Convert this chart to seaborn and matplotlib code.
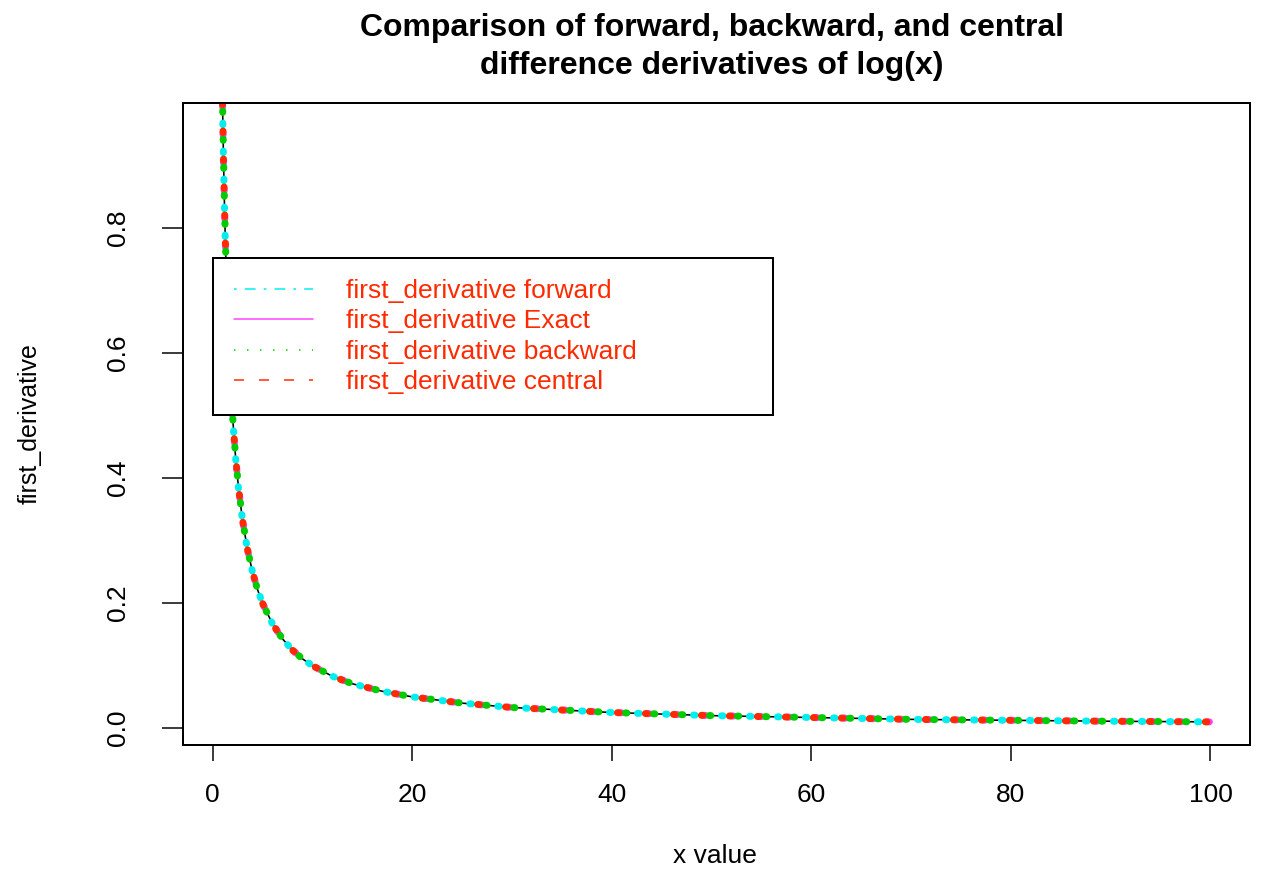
import matplotlib
matplotlib.use("Agg")
import matplotlib.pyplot as plt
import seaborn as sns
import pandas as pd
from matplotlib.lines import Line2D

# ---- data ----
x_value = [1, 1.1, 1.2, 1.3, 1.4, 1.5, 1.7, 2, 2.3, 2.6, 3, 3.5, 4, 4.5, 5, 6, 7, 8,
           9, 10, 12, 14, 17, 20, 25, 30, 35, 40, 50, 60, 70, 80, 90, 100]
exact = [1.0, 0.909, 0.833, 0.769, 0.714, 0.667, 0.588, 0.5, 0.435, 0.385, 0.333,
         0.286, 0.25, 0.222, 0.2, 0.167, 0.143, 0.125, 0.111, 0.1, 0.083, 0.071,
         0.059, 0.05, 0.04, 0.033, 0.029, 0.025, 0.02, 0.017, 0.014, 0.0125, 0.011, 0.01]
forward = [0.995, 0.905, 0.830, 0.766, 0.712, 0.665, 0.586, 0.499, 0.434, 0.384, 0.333,
           0.285, 0.25, 0.222, 0.2, 0.167, 0.143, 0.125, 0.111, 0.1, 0.083, 0.071,
           0.059, 0.05, 0.04, 0.033, 0.029, 0.025, 0.02, 0.017, 0.014, 0.0125, 0.011, 0.01]
backward = [1.005, 0.914, 0.837, 0.772, 0.717, 0.669, 0.590, 0.501, 0.436, 0.386, 0.334,
            0.286, 0.25, 0.222, 0.2, 0.167, 0.143, 0.125, 0.111, 0.1, 0.083, 0.071,
            0.059, 0.05, 0.04, 0.033, 0.029, 0.025, 0.02, 0.017, 0.014, 0.0125, 0.011, 0.01]
central = [1.0, 0.909, 0.833, 0.769, 0.714, 0.667, 0.588, 0.5, 0.435, 0.385, 0.333,
           0.286, 0.25, 0.222, 0.2, 0.167, 0.143, 0.125, 0.111, 0.1, 0.083, 0.071,
           0.059, 0.05, 0.04, 0.033, 0.029, 0.025, 0.02, 0.017, 0.014, 0.0125, 0.011, 0.01]
legend_labels = ["first_derivative forward", "first_derivative Exact",
                 "first_derivative backward", "first_derivative central"]
title_lines = ["Comparison of forward, backward, and central",
               "difference derivatives of log(x)"]
x_ticks = [0, 20, 40, 60, 80, 100]
y_ticks = [0.0, 0.2, 0.4, 0.6, 0.8]

df = pd.DataFrame({"x": x_value, "exact": exact, "forward": forward,
                   "backward": backward, "central": central})

sns.set_style("white")
plt.rcParams["font.family"] = ["Liberation Sans", "DejaVu Sans"]
plt.rcParams["lines.scale_dashes"] = False
for k in ["text.color", "axes.labelcolor", "xtick.color", "ytick.color"]:
    plt.rcParams[k] = "black"

W, H = 1263, 869
fig = plt.figure(figsize=(W / 100, H / 100), dpi=100)
ax = fig.add_axes([183 / W, 1 - 745 / H, (1250 - 183) / W, (745 - 103) / H])

PX = 0.72  # points per pixel
per = 28 * PX
lw = 7 * PX

# thin black base line
sns.lineplot(data=df, x="x", y="exact", ax=ax, color="black", linewidth=1.6 * PX,
             estimator=None, sort=False)

series = [
    ("exact", "#ff40ff", 2.5),
    ("forward", "#00eeee", 17),
    ("backward", "#00cc00", 11),
    ("central", "#ff2a00", 0),
]
for col, color, shift in series:
    before = set(ax.lines)
    sns.lineplot(data=df, x="x", y=col, ax=ax, color=color, linewidth=lw,
                 estimator=None, sort=False)
    for ln in ax.lines:
        if ln not in before:
            off = (per - shift * PX) % per
            ln.set_linestyle((off, (1.5 * PX, per - 1.5 * PX)))
            ln.set_dash_capstyle("round")
            ln.set_solid_capstyle("round")

ax.set_xlim(-2.96, 103.96)
ax.set_ylim(-0.027, 1.0)
ax.set_xticks(x_ticks)
ax.set_xticklabels([str(t) for t in x_ticks])
ax.set_yticks(y_ticks)
ax.set_yticklabels([f"{t:.1f}" for t in y_ticks], rotation=90, va="center")
ax.tick_params(axis="x", bottom=True, direction="out", length=16 * PX, width=1.5 * PX,
               labelsize=19, pad=16)
ax.tick_params(axis="y", left=True, direction="out", length=21 * PX, width=1.5 * PX,
               labelsize=19, pad=23)
for s in ax.spines.values():
    s.set_visible(True)
    s.set_color("black")
    s.set_linewidth(2 * PX)

ax.set_xlabel("x value", fontsize=19)
ax.xaxis.set_label_coords((715 - 183) / 1067, (745 - 856) / 642)
ax.xaxis.label.set_va("center")
ax.set_ylabel("first_derivative", fontsize=18)
ax.yaxis.set_label_coords((30 - 183) / 1067, 0.5)
ax.yaxis.label.set_va("center")

fig.text(712 / W, 1 - 36 / H, title_lines[0], ha="center", va="baseline",
         fontsize=23, fontweight="bold")
fig.text(712 / W, 1 - 74 / H, title_lines[1], ha="center", va="baseline",
         fontsize=23, fontweight="bold")

# legend with thin proxy lines
handles = [
    Line2D([], [], color="#00eeee", linewidth=1.5 * PX,
           dashes=(1 * 2.7 * PX, 3 * 2.7 * PX, 4 * 2.7 * PX, 3 * 2.7 * PX)),
    Line2D([], [], color="#ff40ff", linewidth=1.5 * PX),
    Line2D([], [], color="#00cc00", linewidth=1.5 * PX, dashes=(1.5 * PX, 11.5 * PX)),
    Line2D([], [], color="#ff2a00", linewidth=1.5 * PX, dashes=(10 * PX, 15 * PX)),
]
leg = ax.legend(handles, legend_labels, loc="upper left",
                bbox_to_anchor=((213 - 183) / 1067, 0.4, 560 / 1067, (745 - 258) / 642 - 0.4),
                mode="expand",
                fontsize=19, frameon=True, fancybox=False, framealpha=1,
                edgecolor="black", handlelength=3.0, handletextpad=1.25,
                borderpad=0.8, labelspacing=0.24, borderaxespad=0)
leg.get_frame().set_linewidth(2 * PX)
for t in leg.get_texts():
    t.set_color("#ff2a00")

fig.savefig("out.png", dpi=100)
